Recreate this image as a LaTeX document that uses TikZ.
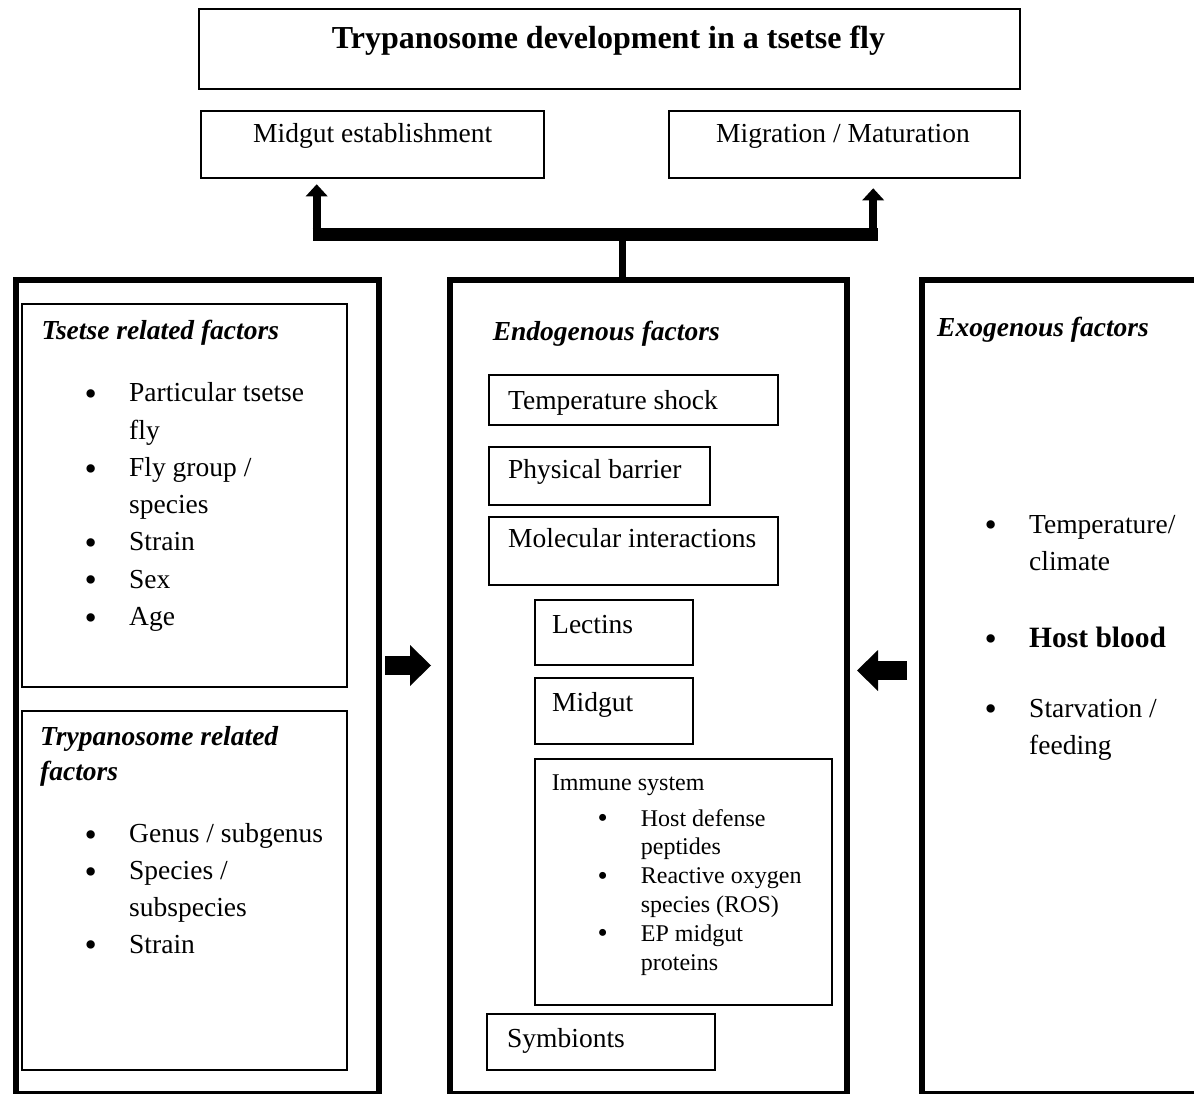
\documentclass[tikz,border=0pt]{standalone}
\usepackage{fontspec}
\setmainfont{Liberation Serif}
\usetikzlibrary{arrows.meta}
\usetikzlibrary{positioning}
\tikzset{>=latex}
\tikzstyle{box} = [draw, line width=1.8pt, inner sep=0, anchor=north west]
\tikzstyle{panel} = [draw, line width=5.5pt, inner sep=0, anchor=north west]
\tikzstyle{txt} = [inner sep=0, anchor=base west, font=\fontsize{27.5}{37.3}\selectfont]
\tikzstyle{head} = [txt, align=left, font=\fontsize{27.5}{35}\selectfont\bfseries\itshape]
\tikzstyle{small} = [txt, font=\fontsize{24}{28.8}\selectfont]
\tikzstyle{rise} = [line width=8.3pt, shorten >=5pt, -{Triangle[length=12pt,width=22pt,line width=0pt]}]
\tikzstyle{push} = [line width=19pt, -{Triangle[length=21pt,width=41pt,line width=0pt]}]
\newcommand{\bul}{\raisebox{-3.7pt}{\fontsize{35}{10}\selectfont\textbullet}}
\newcommand{\sbul}{\raisebox{-1.5pt}{\fontsize{29}{10}\selectfont\textbullet}}

\begin{document}
\begin{tikzpicture}[x=1pt, y=-1pt]
\useasboundingbox (0,0) rectangle (1194,1094);
\clip (0,0) rectangle (1194,1094);

% top
\node [box, minimum width=821, minimum height=80] (titlebox) at (198,8) {};
\node [inner sep=0, anchor=base, font=\fontsize{32}{38}\selectfont\bfseries] (titletxt) at (608.5,49) {Trypanosome development in a tsetse fly};
\node [box, minimum width=343, minimum height=67.5] (midest) at (200,110) {};
\node [txt] (midesttxt) at (253,143) {Midgut establishment};
\node [box, minimum width=351, minimum height=67.5] (migmat) at (668,110) {};
\node [txt] (migmattxt) at (716,143) {Migration / Maturation};

% panels
\node [panel, minimum width=363, minimum height=814] (tsetse) at (13,277) {};
\node [panel, minimum width=397, minimum height=814] (endo) at (447,277) {};
\node [panel, minimum width=276, minimum height=814] (exo) at (919,277) {};

% left panel
\node [box, minimum width=325, minimum height=383] (flybox) at (21,303) {};
\node [head] (flyhead) at (41.5,339.3) {Tsetse related factors};
\node [txt] (flylist) at (84.5,401.7) {\begin{tabular}[t]{@{}p{44.5pt}@{}l@{}}
\bul & Particular tsetse\\
     & fly\\
\bul & Fly group /\\
     & species\\
\bul & Strain\\
\bul & Sex\\
\bul & Age
\end{tabular}};
\node [box, minimum width=325, minimum height=359] (trypbox) at (21,710) {};
\node [head] (tryphead) at (40,780) {Trypanosome related\\factors};
\node [txt, font=\fontsize{27.5}{36.8}\selectfont] (tryplist) at (84.5,842.7) {\begin{tabular}[t]{@{}p{44.5pt}@{}l@{}}
\bul & Genus / subgenus\\
\bul & Species /\\
     & subspecies\\
\bul & Strain
\end{tabular}};

% centre panel
\node [head] (endohead) at (492.6,340) {Endogenous factors};
\node [box, minimum width=289, minimum height=50] (tempbox) at (488,374) {};
\node [txt] (temptxt) at (508,409) {Temperature shock};
\node [box, minimum width=221, minimum height=58] (physbox) at (488,446) {};
\node [txt] (phystxt) at (508,478) {Physical barrier};
\node [box, minimum width=289, minimum height=68] (molbox) at (488,516) {};
\node [txt] (moltxt) at (508,547) {Molecular interactions};
\node [box, minimum width=158, minimum height=65] (lectbox) at (534,599) {};
\node [txt] (lecttxt) at (552,633) {Lectins};
\node [box, minimum width=158, minimum height=66] (gutbox) at (534,677) {};
\node [txt] (guttxt) at (552,711.7) {Midgut};
\node [box, minimum width=297, minimum height=246] (immbox) at (534,758) {};
\node [small] (immtxt) at (551.7,790.7) {Immune system};
\node [small] (immlist) at (597.4,826) {\begin{tabular}[t]{@{}p{43.3pt}@{}l@{}}
\sbul & Host defense\\
      & peptides\\
\sbul & Reactive oxygen\\
      & species (ROS)\\
\sbul & EP midgut\\
      & proteins
\end{tabular}};
\node [box, minimum width=228, minimum height=56] (symbox) at (486,1013) {};
\node [txt] (symtxt) at (507,1047) {Symbionts};

% right panel
\node [head] (exohead) at (937,336) {Exogenous factors};
\node [txt, font=\fontsize{27.5}{37}\selectfont] (exolist) at (984.5,533) {\begin{tabular}[t]{@{}p{44.5pt}@{}l@{}}
\bul & Temperature/\\
     & climate\\[40pt]
\bul & {\fontsize{29.5}{37}\selectfont\bfseries Host blood}\\[33pt]
\bul & Starvation /\\
     & feeding
\end{tabular}};

% connectors
\coordinate (fork) at (622.5,234.5);
\coordinate (barL) at (312.5,234.5);
\coordinate (barR) at (877.5,234.5);
\coordinate (riseL) at (316.7,241);
\coordinate (riseR) at (873.2,241);
\draw [line width=7pt] (fork |- endo.north) -- (fork);
\draw [line width=13pt] (barL) -- (barR);
\draw [rise] (riseL) -- (riseL |- midest.south);
\draw [rise, shorten >=9pt] (riseR) -- (riseR |- migmat.south);

\coordinate (pushLa) at (385,665.5);
\coordinate (pushLb) at (431,665.5);
\coordinate (pushRa) at (907,670.5);
\coordinate (pushRb) at (857,670.5);
\draw [push] (pushLa) -- (pushLb);
\draw [push] (pushRa) -- (pushRb);
\end{tikzpicture}
\end{document}
